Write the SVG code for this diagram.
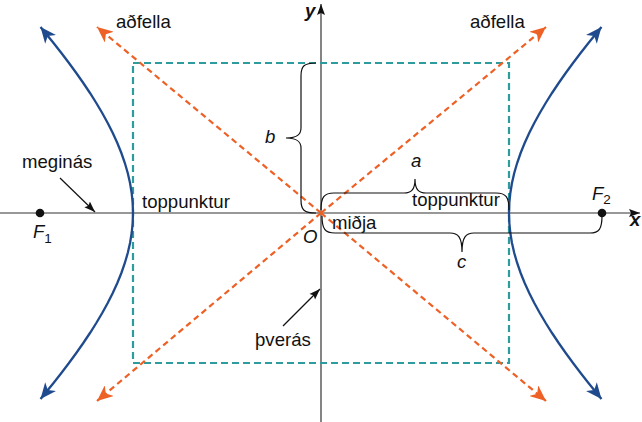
<svg xmlns="http://www.w3.org/2000/svg" width="642" height="422" viewBox="0 0 642 422">
<style>
text{font-family:"Liberation Sans",Arial,sans-serif;font-size:18.6px;fill:#111}
.it{font-style:italic}
.bi{font-style:italic;font-weight:bold}
.sub{font-style:normal;font-size:13.5px}
.axis{stroke:#333;stroke-width:1.2;fill:none}
.hyp{stroke:#1f4b8e;stroke-width:2.3;fill:none}
.asym{stroke:#ee6126;stroke-width:2.2;stroke-dasharray:6 4;fill:none}
.box{stroke:#2e9c9c;stroke-width:2.2;stroke-dasharray:7 4;fill:none}
.brace{stroke:#111;stroke-width:1.2;fill:none}
.ptr{stroke:#111;stroke-width:1.2;fill:none}
</style>
<defs>
<marker id="ab" markerUnits="userSpaceOnUse" markerWidth="18" markerHeight="14" refX="16" refY="7" orient="auto-start-reverse" viewBox="0 0 18 14"><path d="M0,0 L16,7 L0,14 L4.5,7 z" fill="#1f4b8e"/></marker>
<marker id="ao" markerUnits="userSpaceOnUse" markerWidth="18" markerHeight="14" refX="16" refY="7" orient="auto" viewBox="0 0 18 14"><path d="M0,0 L16,7 L0,14 L4.5,7 z" fill="#ee6126"/></marker>
<marker id="ak" markerUnits="userSpaceOnUse" markerWidth="12" markerHeight="10" refX="11" refY="4" orient="auto" viewBox="0 0 12 8"><path d="M0,0 L11,4 L0,8 L2,4 z" fill="#111"/></marker>
</defs>

<g id="axes">
<line class="axis" x1="0" y1="213" x2="640" y2="213" marker-end="url(#ak)"/>
<line class="axis" x1="321" y1="422" x2="321" y2="4" marker-end="url(#ak)"/>
<text class="bi" x="305" y="17">y</text>
<text class="bi" x="630" y="226">x</text>
</g>

<g id="box"><rect class="box" x="133" y="63" width="376" height="300"/></g>

<g id="connectors">
<line class="asym" x1="321" y1="213" x2="97" y2="27" marker-end="url(#ao)"/>
<line class="asym" x1="321" y1="213" x2="546" y2="27" marker-end="url(#ao)"/>
<line class="asym" x1="321" y1="213" x2="97" y2="401" marker-end="url(#ao)"/>
<line class="asym" x1="321" y1="213" x2="546" y2="401" marker-end="url(#ao)"/>
<line class="ptr" x1="60" y1="178" x2="95" y2="212" marker-end="url(#ak)"/>
<line class="ptr" x1="283" y1="326" x2="320" y2="289" marker-end="url(#ak)"/>
</g>

<g id="left-branch">
<polyline class="hyp" marker-start="url(#ab)" marker-end="url(#ab)" points="40.52,399 53.54,383 61.38,373 68.97,363 76.28,353 83.29,343 89.97,333 96.29,323 102.21,313 107.72,303 112.77,293 117.33,283 121.37,273 124.85,263 127.75,253 130.03,243 131.67,233 132.67,223 133,213 132.67,203 131.67,193 130.03,183 127.75,173 124.85,163 121.37,153 117.33,143 112.77,133 107.72,123 102.21,113 96.29,103 89.97,93 83.29,83 76.28,73 68.97,63 61.38,53 53.54,43 40.52,27"/>
</g>
<g id="right-branch">
<polyline class="hyp" marker-start="url(#ab)" marker-end="url(#ab)" points="601.48,399 588.46,383 580.62,373 573.03,363 565.72,353 558.71,343 552.03,333 545.71,323 539.79,313 534.28,303 529.23,293 524.67,283 520.63,273 517.15,263 514.25,253 511.97,243 510.33,233 509.33,223 509,213 509.33,203 510.33,193 511.97,183 514.25,173 517.15,163 520.63,153 524.67,143 529.23,133 534.28,123 539.79,113 545.71,103 552.03,93 558.71,83 565.72,73 573.03,63 580.62,53 588.46,43 601.48,27"/>
</g>

<g id="foci">
<circle cx="40" cy="213" r="4.3" fill="#111"/>
<circle cx="602" cy="213" r="4.3" fill="#111"/>
<text class="it" x="33" y="238">F<tspan class="sub" dy="5">1</tspan></text>
<text class="it" x="592" y="200">F<tspan class="sub" dy="4">2</tspan></text>
</g>

<g id="brace-b">
<path class="brace" d="M316,63 C304,63 301,66 301,76 L301,128 C301,134 298,138 286,138 C298,138 301,142 301,148 L301,200 C301,210 304,213 316,213"/>
<text class="it" x="265" y="143">b</text>
</g>
<g id="brace-a">
<path class="brace" d="M321,210 C321,197 324,193 334,193 L404,193 C411,193 415,190 415,179 C415,190 419,193 426,193 L496,193 C506,193 509,197 509,210"/>
<text class="it" x="411" y="167">a</text>
</g>
<g id="brace-c">
<path class="brace" d="M322,216 C322,229 325,233 335,233 L450,233 C458,233 462,237 462,252 C462,237 466,233 474,233 L590,233 C599,233 602,229 602,216"/>
<text class="it" x="457" y="268">c</text>
</g>

<g id="labels">
<text x="116" y="28">aðfella</text>
<text x="470" y="28">aðfella</text>
<text x="22" y="168">meginás</text>
<text x="142" y="208">toppunktur</text>
<text x="412" y="206">toppunktur</text>
<text x="332" y="229">miðja</text>
<text class="it" x="303" y="243">O</text>
<text x="255" y="346">þverás</text>
</g>
</svg>
